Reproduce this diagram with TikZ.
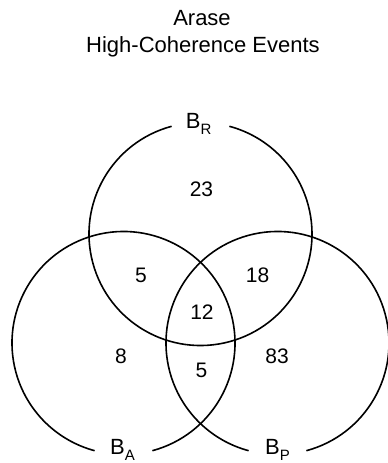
\documentclass[tikz,border=0pt]{standalone}
\usepackage{fontspec}
\setmainfont{Liberation Sans}
\newcommand{\setname}[1]{B\raisebox{-6.5pt}{\fontsize{15}{15}\selectfont #1}}
\begin{document}
\begin{tikzpicture}[x=1pt,y=1pt,
  ring/.style={draw=black,line width=1.6pt},
  count/.style={inner sep=0pt,font=\fontsize{21}{25}\selectfont},
  setlabel/.style={inner sep=0pt,anchor=base west,font=\fontsize{22}{26}\selectfont},
  heading/.style={inner sep=0pt,anchor=base,font=\fontsize{22}{26}\selectfont}]
\useasboundingbox (0,0) rectangle (388,463);
\def\R{111.5}
% title
\node[heading] (t1) at (202,437) {Arase};
\node[heading] (t2) at (203,410.5) {High-Coherence Events};
% circle centres
\coordinate (cR) at (200.5,229);
\coordinate (cA) at (123.5,120);
\coordinate (cP) at (277.5,120);
% circles, each broken where its label sits
\draw[ring] (cR) ++(105:\R) arc[start angle=105,end angle=435,radius=\R];
\draw[ring] (cA) ++(285:\R) arc[start angle=285,end angle=615,radius=\R];
\draw[ring] (cP) ++(285:\R) arc[start angle=285,end angle=615,radius=\R];
% set labels
\node[setlabel] (lR) at (185.7,334.7) {\setname{R}};
\node[setlabel] (lA) at (110,9) {\setname{A}};
\node[setlabel] (lP) at (265,9) {\setname{P}};
% region counts
\node[count] (nR)   at (201.5,274)   {23};
\node[count] (nRA)  at (141,187.5)   {5};
\node[count] (nRP)  at (257.5,187.5) {18};
\node[count] (nRAP) at (202,151)     {12};
\node[count] (nA)   at (121,106.5)   {8};
\node[count] (nP)   at (277,106.5)   {83};
\node[count] (nAP)  at (201.5,92.5)  {5};
\end{tikzpicture}
\end{document}
